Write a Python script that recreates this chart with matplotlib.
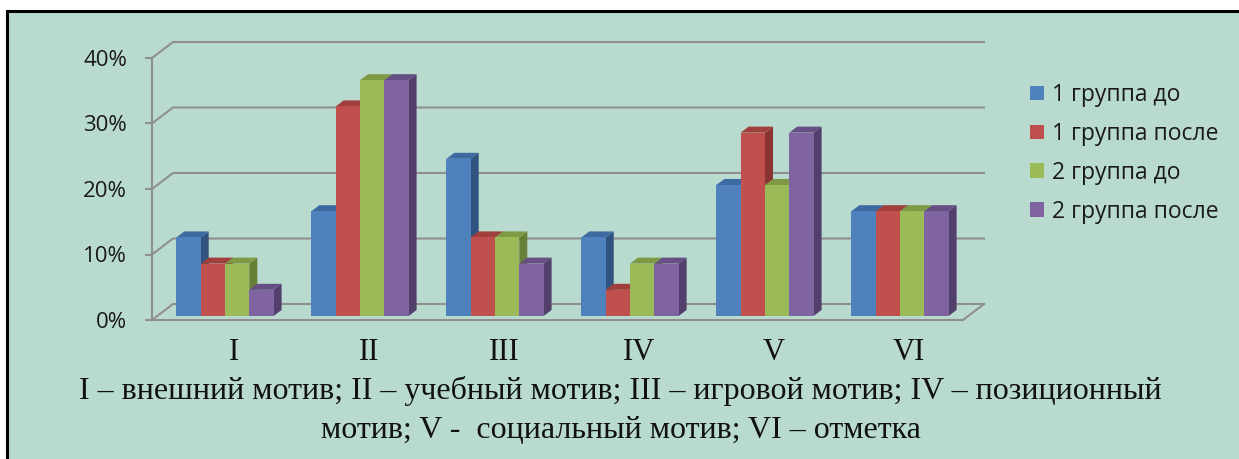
import matplotlib
matplotlib.use("Agg")
import matplotlib.pyplot as plt
from matplotlib.patches import Polygon, Rectangle, Patch
import numpy as np

# ---- data ----
categories = ["I", "II", "III", "IV", "V", "VI"]
series_names = ["1 группа до", "1 группа после", "2 группа до", "2 группа после"]
g1_before = [12, 16, 24, 12, 20, 16]
g1_after = [8, 32, 12, 4, 28, 16]
g2_before = [8, 36, 12, 8, 20, 16]
g2_after = [4, 36, 8, 8, 28, 16]
series_values = [g1_before, g1_after, g2_before, g2_after]
yticks = [0, 10, 20, 30, 40]
ytick_labels = ["0%", "10%", "20%", "30%", "40%"]
caption_lines = ["I – внешний мотив; II – учебный мотив; III – игровой мотив; IV – позиционный",
                 "мотив; V -  социальный мотив; VI – отметка"]

# ---- style ----
front_cols = ["#4f81bd", "#c0504d", "#9bbb59", "#8064a2"]
top_cols = ["#3d6aa1", "#a03f3c", "#7e9a45", "#654f84"]
side_cols = ["#30547f", "#8a3533", "#687f38", "#523f6b"]
bg = "#b9dbcf"
grid_col = "#8f8f8f"

W, H = 1239, 459
fig = plt.figure(figsize=(W / 100, H / 100), dpi=100)
fig.patch.set_facecolor("white")
# background panel with border
fig.patches.append(Rectangle((7 / W, -0.1), 1.1, (H - 11) / H + 0.1, transform=fig.transFigure,
                             facecolor=bg, edgecolor="black", linewidth=2.2, zorder=-10))

# front plane pixel geometry
x_left, x_right, y_bot, y_top = 152, 963, 320, 58
ax = fig.add_axes([x_left / W, (H - y_bot) / H, (x_right - x_left) / W, (y_bot - y_top) / H])
ax.set_facecolor("none")
spacing_px = 135.0
cat0_px = 222.0
xmin = (x_left - cat0_px) / spacing_px
xmax = (x_right - cat0_px) / spacing_px
ax.set_xlim(xmin, xmax)
ax.set_ylim(0, 40)

ppx = (x_right - x_left) / (xmax - xmin)
ppy = (y_bot - y_top) / 40.0
# depth offsets in data units
dX = 21 / ppx
dY = 16 / ppy
bshift_x = 3 / ppx
bshift_y = 4 / ppy
bdx = 8 / ppx
bdy = 6 / ppy

lw = 1.5
# back wall gridlines + left wall diagonals
for t in yticks:
    ax.plot([xmin, xmin + dX, xmax + dX], [t, t + dY, t + dY], color=grid_col, lw=lw,
            clip_on=False, zorder=1, solid_joinstyle="miter")
# floor right diagonal
ax.plot([xmax, xmax + dX], [0, dY], color=grid_col, lw=lw, clip_on=False, zorder=1)

# bars
n = len(series_values)
bw = 0.18
for i in range(len(categories)):
    for j in range(n):
        v = series_values[j][i]
        x0 = i - n * bw / 2 + j * bw + bshift_x
        y0 = bshift_y
        z = 3 + i * 0.01 + j * 0.001
        side = Polygon([(x0 + bw, y0), (x0 + bw + bdx, y0 + bdy), (x0 + bw + bdx, y0 + v + bdy),
                        (x0 + bw, y0 + v)], closed=True, facecolor=side_cols[j], edgecolor="none",
                       zorder=z, clip_on=False)
        top = Polygon([(x0, y0 + v), (x0 + bdx, y0 + v + bdy), (x0 + bw + bdx, y0 + v + bdy),
                       (x0 + bw, y0 + v)], closed=True, facecolor=top_cols[j], edgecolor="none",
                      zorder=z, clip_on=False)
        ax.add_patch(side)
        ax.add_patch(top)
        ax.bar([x0], [v], width=bw, bottom=y0, align="edge", color=front_cols[j],
               edgecolor="none", zorder=z, clip_on=False)

# axes styling
for s in ["top", "right"]:
    ax.spines[s].set_visible(False)
ax.spines["left"].set_color(grid_col)
ax.spines["left"].set_linewidth(lw)
ax.spines["bottom"].set_color(grid_col)
ax.spines["bottom"].set_linewidth(lw)
ax.set_yticks(yticks)
ax.set_yticklabels(ytick_labels, fontsize=16, family=["Open Sans", "DejaVu Sans"], color="#1a1a1a")
ax.tick_params(axis="y", direction="out", length=5, width=lw, color=grid_col, pad=13)
ax.set_xticks(np.arange(len(categories)) + 12 / ppx)
ax.set_xticklabels(categories, fontsize=22, family=["Liberation Serif"], color="#111111")
ax.tick_params(axis="x", length=0, pad=13)

# legend
handles = [Patch(facecolor=c, edgecolor="none") for c in front_cols]
leg = fig.legend(handles, series_names, loc="upper left", bbox_to_anchor=(1030 / W, 1 - 83 / H),
                 frameon=False, handlelength=0.6, handleheight=0.6,
                 handletextpad=0.35, labelspacing=0.65, borderaxespad=0, borderpad=0,
                 prop={"family": ["Open Sans", "DejaVu Sans"], "size": 16.5})
for t in leg.get_texts():
    t.set_color("#1a1a1a")

# caption
fig.text(620 / W, 1 - 391 / H, caption_lines[0], ha="center", va="center", fontsize=23,
         family=["Liberation Serif"], color="#111111")
fig.text(621 / W, 1 - 430 / H, caption_lines[1], ha="center", va="center", fontsize=23,
         family=["Liberation Serif"], color="#111111")

fig.savefig("out.png", dpi=100, facecolor=fig.get_facecolor())
